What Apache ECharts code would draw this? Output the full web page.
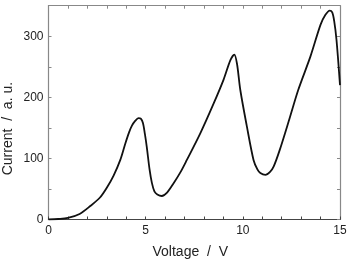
<!DOCTYPE html>
<html><head><meta charset="utf-8">
<script src="https://cdn.jsdelivr.net/npm/echarts@6/dist/echarts.min.js"></script>
<style>html,body{margin:0;padding:0;background:#fff}#c{width:350px;height:262px}</style>
</head><body><div id="c"></div>
<script>
const voltage = [0,0.5,1.0,1.6,2.15,2.65,3.0,3.35,3.7,3.95,4.15,4.3,4.45,4.63,4.75,4.86,4.96,5.06,5.2,5.32,5.45,5.6,5.83,6.1,6.43,6.8,7.12,7.81,8.5,9.01,9.36,9.56,9.7,9.87,10.21,10.55,10.75,10.9,11.16,11.4,11.59,11.9,12.4,12.85,13.48,14.0,14.25,14.47,14.6,14.7,14.82,15.0];
const current = [0,0.8,2.5,9,22,36,52,72,98,124,143,154,161,166,165,158,140,118,82,60,46,41,38.5,44,59,78,97.5,141,190,229,261,270,255,212,152,97.5,82,76,73,78,87,114,165,212,267,319,335,342,339,325,294,220];
const xTicks = [0,5,10,15];
const yTicks = [0,100,200,300];

const font = '"Liberation Sans", Arial, sans-serif';
const chart = echarts.init(document.getElementById('c'));
const gray = '#888';
function axisCommon(lineColor, showLabel){
  return {
    axisLine:{show:true,onZero:false,lineStyle:{color:lineColor,width:1.2}},
    axisTick:{show:true,inside:true,length:3,lineStyle:{color:lineColor}},
    minorTick:{show:true,length:3,lineStyle:{color:lineColor}},
    splitLine:{show:false},
    axisLabel:{show:showLabel,color:'#222',fontFamily:font,fontSize:12,margin:5,showMaxLabel:true}
  };
}
const xBottom = Object.assign(axisCommon('#444',true),{
  type:'value',min:0,max:15,interval:5,position:'bottom',
  name:'Voltage  /  V',nameLocation:'middle',nameGap:26,nameMoveOverlap:false,
  nameTextStyle:{color:'#222',fontFamily:font,fontSize:14,padding:[0,8,0,0]}
});
xBottom.axisLabel.formatter = v => xTicks.includes(v) ? String(v) : '';
xBottom.minorTick.splitNumber = 5;
const xTop = Object.assign(axisCommon(gray,false),{type:'value',min:0,max:15,interval:5,position:'top'});
xTop.minorTick.splitNumber = 5;
const yLeft = Object.assign(axisCommon(gray,true),{
  type:'value',min:0,max:350,interval:100,position:'left',
  name:'Current  /  a. u.',nameLocation:'middle',nameGap:33,nameMoveOverlap:false,
  nameTextStyle:{color:'#222',fontFamily:font,fontSize:14,padding:[0,32,0,0]}
});
yLeft.axisLabel.formatter = v => yTicks.includes(v) ? String(v) : '';
yLeft.minorTick.splitNumber = 2;
const yRight = Object.assign(axisCommon(gray,false),{type:'value',min:0,max:350,interval:100,position:'right'});
yRight.minorTick.splitNumber = 2;

chart.setOption({
  animation:false,
  grid:{left:48.5,right:10,top:5.7,bottom:42.5,containLabel:false,outerBoundsMode:'none'},
  xAxis:[xBottom,xTop],
  yAxis:[yLeft,yRight],
  series:[{
    type:'line',xAxisIndex:0,yAxisIndex:0,
    data:voltage.map((v,i)=>[v,current[i]]),
    smooth:0.3,showSymbol:false,symbol:'none',
    lineStyle:{color:'#111',width:1.8}
  }]
});
</script></body></html>
